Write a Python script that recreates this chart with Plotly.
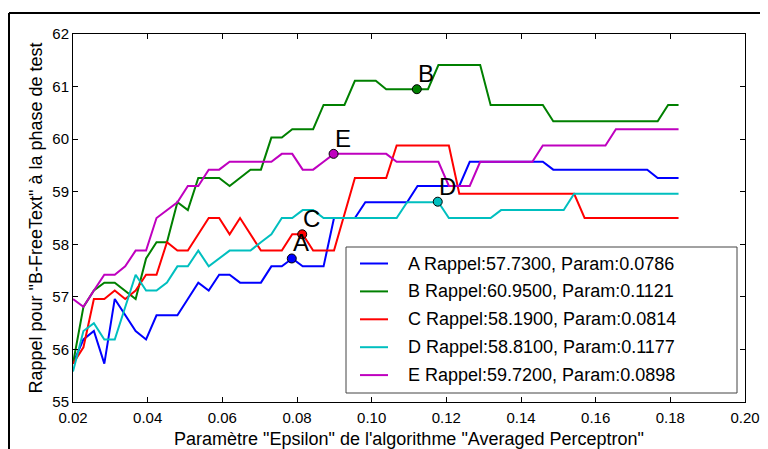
import numpy as np
import plotly.graph_objects as go

# Epsilon parameter grid (59 settings)
epsilon = np.linspace(0.02, 0.1822, 59)

rappel_A = [55.73, 56.19, 56.35, 55.73, 56.96, 56.65, 56.35, 56.19, 56.65, 56.65,
            56.65, 56.96, 57.27, 57.12, 57.42, 57.42, 57.27, 57.27, 57.27, 57.58,
            57.58, 57.73, 57.58, 57.58, 57.58, 58.50, 58.50, 58.50, 58.80, 58.80,
            58.80, 58.80, 58.80, 59.11, 59.11, 59.11, 59.11, 59.11, 59.57, 59.57,
            59.57, 59.57, 59.57, 59.57, 59.57, 59.57, 59.42, 59.42, 59.42, 59.42,
            59.42, 59.42, 59.42, 59.42, 59.42, 59.42, 59.26, 59.26, 59.26]
rappel_B = [55.73, 56.81, 57.12, 57.27, 57.27, 57.12, 56.96, 57.73, 58.04, 58.04,
            58.80, 58.65, 59.26, 59.26, 59.26, 59.11, 59.26, 59.42, 59.42, 60.03,
            60.03, 60.19, 60.19, 60.19, 60.65, 60.65, 60.65, 61.11, 61.11, 61.11,
            60.95, 60.95, 60.95, 60.95, 60.95, 61.41, 61.41, 61.41, 61.41, 61.41,
            60.65, 60.65, 60.65, 60.65, 60.65, 60.65, 60.34, 60.34, 60.34, 60.34,
            60.34, 60.34, 60.34, 60.34, 60.34, 60.34, 60.34, 60.65, 60.65]
rappel_C = [55.73, 56.04, 56.96, 56.96, 57.12, 56.96, 57.12, 57.42, 57.42, 58.04,
            57.88, 57.88, 58.19, 58.50, 58.50, 58.19, 58.50, 58.19, 57.88, 57.88,
            57.88, 58.19, 58.19, 57.88, 57.88, 57.88, 58.57, 59.26, 59.26, 59.26,
            59.26, 59.88, 59.88, 59.88, 59.88, 59.88, 59.88, 58.96, 58.96, 58.96,
            58.96, 58.96, 58.96, 58.96, 58.96, 58.96, 58.96, 58.96, 58.96, 58.50,
            58.50, 58.50, 58.50, 58.50, 58.50, 58.50, 58.50, 58.50, 58.50]
rappel_D = [55.58, 56.35, 56.50, 56.19, 56.19, 56.81, 57.42, 57.12, 57.12, 57.27,
            57.58, 57.58, 57.88, 57.58, 57.73, 57.88, 57.88, 57.88, 58.04, 58.19,
            58.50, 58.50, 58.65, 58.65, 58.50, 58.50, 58.50, 58.50, 58.50, 58.50,
            58.50, 58.50, 58.80, 58.80, 58.80, 58.80, 58.50, 58.50, 58.50, 58.50,
            58.50, 58.65, 58.65, 58.65, 58.65, 58.65, 58.65, 58.65, 58.96, 58.96,
            58.96, 58.96, 58.96, 58.96, 58.96, 58.96, 58.96, 58.96, 58.96]
rappel_E = [56.96, 56.81, 57.12, 57.42, 57.42, 57.58, 57.88, 57.88, 58.50, 58.65,
            58.80, 59.11, 59.11, 59.42, 59.42, 59.57, 59.57, 59.57, 59.57, 59.57,
            59.72, 59.72, 59.42, 59.42, 59.57, 59.72, 59.72, 59.72, 59.72, 59.72,
            59.72, 59.57, 59.57, 59.57, 59.57, 59.57, 59.11, 59.11, 59.11, 59.57,
            59.57, 59.57, 59.57, 59.57, 59.57, 59.88, 59.88, 59.88, 59.88, 59.88,
            59.88, 59.88, 60.19, 60.19, 60.19, 60.19, 60.19, 60.19, 60.19]

labels = ["A", "B", "C", "D", "E"]
best_rappel = [57.73, 60.95, 58.19, 58.81, 59.72]
best_param = [0.0786, 0.1121, 0.0814, 0.1177, 0.0898]
colors = ["#0000ff", "#008000", "#ff0000", "#00bfbf", "#bf00bf"]
series = [rappel_A, rappel_B, rappel_C, rappel_D, rappel_E]

x_ticks = [0.02, 0.04, 0.06, 0.08, 0.10, 0.12, 0.14, 0.16, 0.18, 0.20]
y_ticks = [55, 56, 57, 58, 59, 60, 61, 62]

# The page body has an 8px margin, so the figure is sized/offset to compensate.
OFF = 8
W, H = 768 - OFF, 449 - OFF
L, R, T, B = 73 - OFF, 23, 34 - OFF, 47
pw, ph = W - L - R, H - T - B


def px(xp):
    """page x pixel -> paper x"""
    return (xp - OFF - L) / pw


def py(yp):
    """page y pixel -> paper y"""
    return (H - B - (yp - OFF)) / ph


fig = go.Figure()
names = [f"{lab} Rappel:{r:.4f}, Param:{p:.4f}"
         for lab, r, p in zip(labels, best_rappel, best_param)]
for name, ys, col in zip(names, series, colors):
    fig.add_trace(go.Scatter(
        x=epsilon, y=ys, mode="lines", line=dict(color=col, width=2),
        name=name, showlegend=False))
for lab, col, r, p in zip(labels, colors, best_rappel, best_param):
    fig.add_trace(go.Scatter(
        x=[p], y=[r], mode="markers", showlegend=False,
        marker=dict(color=col, size=9, line=dict(color="black", width=1))))
    fig.add_annotation(x=p, y=r, text=lab, showarrow=False, xanchor="left",
                       yanchor="bottom", font=dict(size=24, color="black"),
                       xshift=-1, yshift=0)

# outer frame of the figure
fig.add_shape(type="line", xref="paper", yref="paper", x0=px(9), y0=py(13),
              x1=px(770), y1=py(13), line=dict(color="black", width=2))
fig.add_shape(type="line", xref="paper", yref="paper", x0=px(9), y0=py(13),
              x1=px(9), y1=py(452), line=dict(color="black", width=2))

# legend box (drawn to match the reference layout)
lx0, lx1, ly0, ly1 = 346, 737, 247, 393
fig.add_shape(type="rect", xref="paper", yref="paper", x0=px(lx0), x1=px(lx1),
              y0=py(ly1), y1=py(ly0), line=dict(color="#444444", width=1),
              fillcolor="white", layer="above")
for k, (name, col) in enumerate(zip(names, colors)):
    rowy = 263.5 + 27.9 * k
    fig.add_shape(type="line", xref="paper", yref="paper", x0=px(360), x1=px(388),
                  y0=py(rowy), y1=py(rowy), line=dict(color=col, width=2),
                  layer="above")
    fig.add_annotation(xref="paper", yref="paper", x=px(406), y=py(rowy), text=name,
                       showarrow=False, xanchor="left", yanchor="middle",
                       font=dict(size=18, color="black"))

axis_common = dict(showline=True, linecolor="black", linewidth=1, mirror="ticks",
                   ticks="inside", ticklen=5, tickcolor="black", showgrid=False,
                   zeroline=False, automargin=False)
fig.update_layout(
    width=W, height=H,
    margin=dict(l=L, r=R, t=T, b=B),
    paper_bgcolor="white", plot_bgcolor="white",
    font=dict(family="Liberation Sans, Arial, sans-serif", size=15, color="black"),
    xaxis=dict(range=[0.02, 0.20], tickvals=x_ticks,
               ticktext=[f"{v:.2f}" for v in x_ticks], ticklabelstandoff=2,
               title=dict(text="Paramètre \"Epsilon\" de l'algorithme \"Averaged Perceptron\"",
                          standoff=8),
               **axis_common),
    yaxis=dict(range=[55, 62], tickvals=y_ticks, ticktext=[str(v) for v in y_ticks],
               title=dict(text="Rappel pour \"B-FreeText\" à la phase de test", standoff=5),
               **axis_common),
    showlegend=False,
)

fig.write_html("out.html")
